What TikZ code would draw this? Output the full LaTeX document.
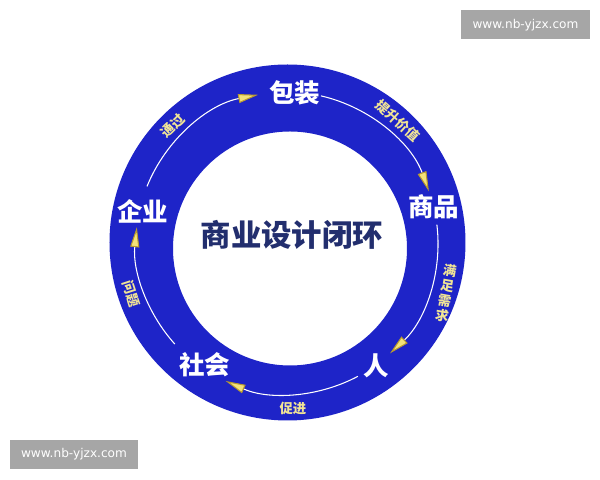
\documentclass[tikz,border=0pt]{standalone}
\usepackage{fontspec}
\newfontfamily\cjk{Noto Sans CJK SC}
\newfontfamily\wmfont{DejaVu Sans}
\usetikzlibrary{arrows.meta,positioning,calc}
\definecolor{ringblue}{RGB}{30,36,200}
\definecolor{titlenavy}{RGB}{34,46,110}
\definecolor{labelyellow}{RGB}{240,228,150}
\definecolor{tipyellow}{RGB}{244,226,122}
\definecolor{tipedge}{RGB}{184,154,48}
\definecolor{wmgrey}{RGB}{166,166,166}

\begin{document}
\begin{tikzpicture}[x=0.02cm,y=0.02cm,
	stage/.style={font=\cjk\bfseries\fontsize{14.5}{15}\selectfont,text=white,inner sep=0pt},
	verb/.style={font=\cjk\bfseries\fontsize{7.6}{8.6}\selectfont,text=labelyellow,inner sep=0pt},
	flow/.style={white,line width=0.6pt,-{Triangle[length=4mm,width=1.8mm,color=tipedge,fill=tipyellow]}},
	wmbox/.style={fill=wmgrey,text=white,font=\wmfont\fontsize{6.9}{8}\selectfont,minimum width=2.58cm,minimum height=0.58cm,inner sep=0pt}]
	\useasboundingbox[fill=white] (0,0) rectangle (600,480);

	\fill[ringblue,even odd rule] (287.5,237.5) circle (178) (290,231.5) circle (117);

	\node[font=\cjk\bfseries\fontsize{17.3}{18}\selectfont,text=titlenavy] (title) at (292,245) {商业设计闭环};

	\node[stage] (qiye) at (143,269) {企业};
	\node[stage] (baozhuang) at (295,387) {包装};
	\node[stage] (shangpin) at (434,273) {商品};
	\node[stage] (ren) at (376,114) {人};
	\node[stage] (shehui) at (205,115) {社会};

	\coordinate (C) at (287,237);
	\coordinate (s1) at ($(C)+(158:151)$);
	\coordinate (s2) at ($(C)+(77:151)$);
	\coordinate (s3) at ($(C)+(7:151)$);
	\coordinate (s4) at ($(C)+(-62:151)$);
	\coordinate (s5) at ($(C)+(222:151)$);

	\draw[flow] (s1) arc[start angle=158,end angle=101,radius=151];
	\draw[flow] (s2) arc[start angle=77,end angle=20,radius=151];
	\draw[flow] (s3) arc[start angle=7,end angle=-47,radius=151];
	\draw[flow] (s4) arc[start angle=-62,end angle=-114,radius=151];
	\draw[flow] (s5) arc[start angle=222,end angle=174,radius=151];

	\node[verb,rotate=44] (tongguo) at (173,354) {通过};
	\node[verb,rotate=-42] (tisheng) at (398,359) {提升价值};
	\node[verb,align=center,rotate=-10] (manzu) at (446,187) {满\\足\\需\\求};
	\node[verb] (cujin) at (293,72) {促进};
	\node[verb,rotate=-72] (wenti) at (131,186) {问题};

	\node[wmbox] (wm1) at (525.5,455) {www.nb-yjzx.com};
	\node[wmbox] (wm2) at (74,25.5) {www.nb-yjzx.com};
\end{tikzpicture}
\end{document}
